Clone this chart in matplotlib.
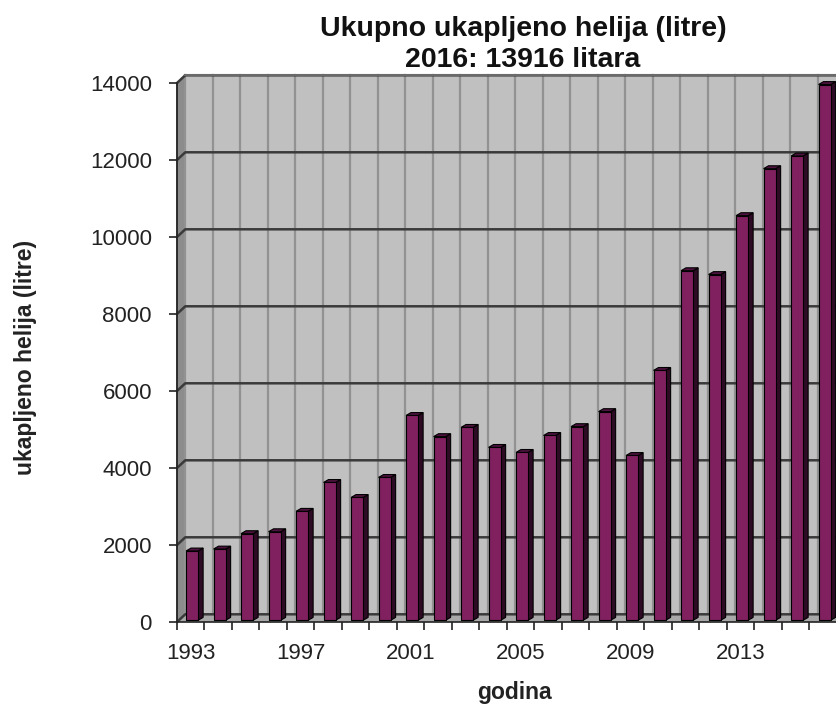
import matplotlib
matplotlib.use('Agg')
import matplotlib.pyplot as plt
from matplotlib.patches import Polygon, Rectangle
import numpy as np

plt.rcParams['font.family'] = ['Liberation Sans', 'DejaVu Sans']

# data
years = list(range(1993, 2017))
litres = [1800, 1850, 2250, 2300, 2830, 3580, 3190, 3710, 5320, 4770, 5010, 4490,
          4360, 4800, 5030, 5420, 4280, 6490, 9080, 8980, 10510, 11730, 12060, 13916]
y_ticks = [0, 2000, 4000, 6000, 8000, 10000, 12000, 14000]
x_label_years = [1993, 1997, 2001, 2005, 2009, 2013]

title1 = 'Ukupno ukapljeno helija (litre)'
title2 = '2016: 13916 litara'

# fake 3d depth (category units / data units)
dx, dy = 0.30, 200
bar_l, bar_r = -0.17, 0.27
bar_dx, bar_dy = 0.18, 75
bar_base = 45

fig = plt.figure(figsize=(8.37, 7.04), dpi=100)
ax = fig.add_axes([177 / 837, 82 / 704, 660 / 837, 539 / 704])
n = len(years)
ymax = y_ticks[-1]
ax.set_xlim(-0.5, n - 0.5)
ax.set_ylim(0, ymax)
ax.patch.set_visible(False)

# back wall
ax.add_patch(Rectangle((-0.5 + dx, dy), n + 1, ymax, facecolor='#c0c0c0',
                       edgecolor='none', zorder=0, clip_on=False))
# left side wall
ax.add_patch(Polygon([(-0.5, 0), (-0.5 + dx, dy), (-0.5 + dx, ymax + dy), (-0.5, ymax)],
                     closed=True, facecolor='#8c8c8c', edgecolor='#555555', lw=1,
                     zorder=1, clip_on=False))
# floor
ax.add_patch(Polygon([(-0.5, 0), (n + 1, 0), (n + 1, dy), (-0.5 + dx, dy)],
                     closed=True, facecolor='#a8a8a8', edgecolor='none',
                     zorder=1, clip_on=False))

# vertical grid on back wall
for k in range(n + 1):
    ax.plot([k - 0.5 + dx, k - 0.5 + dx], [dy, ymax + dy], color='#929292', lw=1.6,
            zorder=1.5, clip_on=False)
# horizontal grid on back wall + side wall
for v in y_ticks:
    ax.plot([-0.5, -0.5 + dx, n + 1], [v, v + dy, v + dy], color='#3a3a3a', lw=1.8,
            zorder=2, clip_on=False)
ax.plot([-0.5 + dx, n + 1], [ymax + dy, ymax + dy], color='#6a6a6a', lw=1.5,
        zorder=2, clip_on=False)

# bars
for i, v in enumerate(litres):
    x0, x1 = i + bar_l, i + bar_r
    y0, y1 = bar_base, bar_base + v
    side = [(x1, y0), (x1 + bar_dx, y0 + bar_dy), (x1 + bar_dx, y1 + bar_dy), (x1, y1)]
    top = [(x0, y1), (x1, y1), (x1 + bar_dx, y1 + bar_dy), (x0 + bar_dx, y1 + bar_dy)]
    ax.add_patch(Polygon(side, closed=True, facecolor='#2e0b24', edgecolor='black',
                         lw=0.8, zorder=3, clip_on=False))
    ax.add_patch(Polygon(top, closed=True, facecolor='#4f1240', edgecolor='black',
                         lw=0.8, zorder=3, clip_on=False))
    ax.add_patch(Rectangle((x0, y0), x1 - x0, v, facecolor='#80205f', edgecolor='black',
                           lw=0.8, zorder=4, clip_on=False))

# axes lines and ticks
for s in ['top', 'right']:
    ax.spines[s].set_visible(False)
for s in ['left', 'bottom']:
    ax.spines[s].set_color('#222222')
    ax.spines[s].set_linewidth(1.2)
    ax.spines[s].set_zorder(5)

ax.set_yticks(y_ticks)
ax.set_yticklabels([str(t) for t in y_ticks], fontsize=16, color='#222222')
ax.tick_params(axis='y', length=6, width=1.2, color='#222222', pad=12)

ax.set_xticks([years.index(y) for y in x_label_years])
ax.set_xticklabels([str(y) for y in x_label_years], fontsize=16, color='#222222')
ax.set_xticks(np.arange(n + 1) - 0.5, minor=True)
ax.tick_params(axis='x', which='major', length=0, pad=15)
ax.tick_params(axis='x', which='minor', length=6, width=1.2, color='#222222')

fig.text(523 / 837, 1 - 29 / 704, title1, ha='center', va='center',
         fontsize=20.5, fontweight='bold', color='#111111')
fig.text(523 / 837, 1 - 60 / 704, title2, ha='center', va='center',
         fontsize=20.5, fontweight='bold', color='#111111')
fig.text(514 / 837, 1 - 693 / 704, 'godina', ha='center', va='center',
         fontsize=16.5, fontweight='bold', color='#222222')
fig.text(26 / 837, 1 - 357 / 704, 'ukapljeno helija (litre)', ha='center',
         va='center', rotation=90, fontsize=16.5, fontweight='bold', color='#222222')

fig.savefig('out.png', dpi=100)
